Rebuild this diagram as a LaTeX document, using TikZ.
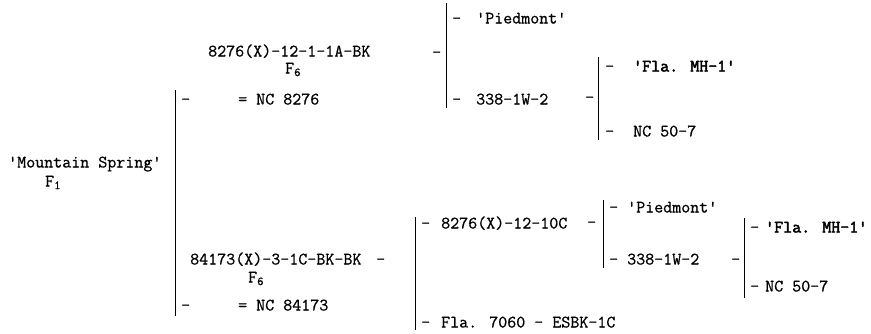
\documentclass[tikz,border=0pt]{standalone}
\usepackage{fontspec}
\newfontfamily\tw{Latin Modern Mono}[FakeBold=0.7]
\newfontfamily\twb{Latin Modern Mono}[FakeBold=2.6]
\newcommand\sq{\textquotesingle}
\begin{document}
\begin{tikzpicture}[x=1pt,y=-1pt,
  txt/.style={anchor=west, inner sep=0pt, text height=9pt, text depth=0pt,
    font=\tw\fontsize{17.5}{18}\selectfont},
  bld/.style={txt, font=\twb\fontsize{17.5}{18}\selectfont},
  bar/.style={line width=1pt}]
\useasboundingbox (0,0) rectangle (871,333);
% root
\node[txt] (ms) at (8,163) {\sq Mountain Spring\sq};
\node[txt] (f1) at (45,182) {F\textsubscript{1}};
\coordinate (m1) at (175,90);
\coordinate (m2) at (175,316);
\draw[bar] (m1) -- (m2);
% upper parent
\node[txt] (da) at (181,100) {-};
\node[txt] (nca) at (238,100) {= NC 8276};
\node[txt] (pa) at (208,52) {8276(X)-12-1-1A-BK};
\node[txt] (f6a) at (285,69) {F\textsubscript{6}};
\node[txt] (dpa) at (432,53) {-};
\coordinate (a1) at (446,3);
\coordinate (a2) at (446,108);
\draw[bar] (a1) -- (a2);
\node[txt] (dp1) at (452,19) {-};
\node[txt] (pied1) at (476,19) {\sq Piedmont\sq};
\node[txt] (dp2) at (452,100) {-};
\node[txt] (s338a) at (476,100) {338-1W-2};
\node[txt] (ds338a) at (585,98) {-};
\coordinate (b1) at (598,57);
\coordinate (b2) at (598,140);
\draw[bar] (b1) -- (b2);
\node[txt] (df1) at (605,67) {-};
\node[bld] (fla1) at (633,67) {\sq Fla. MH-1\sq};
\node[txt] (df2) at (605,132) {-};
\node[txt] (nc507a) at (633,132) {NC 50-7};
% lower parent
\node[txt] (pb) at (190,260) {84173(X)-3-1C-BK-BK};
\node[txt] (dpb) at (376,260) {-};
\node[txt] (f6b) at (248,278) {F\textsubscript{6}};
\node[txt] (db) at (181,306) {-};
\node[txt] (ncb) at (238,306) {= NC 84173};
\coordinate (c1) at (415,217);
\coordinate (c2) at (415,330);
\draw[bar] (c1) -- (c2);
\node[txt] (dq1) at (421,224) {-};
\node[txt] (pc) at (441,224) {8276(X)-12-10C};
\node[txt] (dpc) at (587,223) {-};
\node[txt] (dq2) at (421,323) {-};
\node[txt] (fla7060) at (441,323) {Fla. 7060 - ESBK-1C};
\coordinate (e1) at (603,200);
\coordinate (e2) at (603,268);
\draw[bar] (e1) -- (e2);
\node[txt] (dr1) at (609,208) {-};
\node[txt] (pied2) at (627,208) {\sq Piedmont\sq};
\node[txt] (dr2) at (609,260) {-};
\node[txt] (s338b) at (627,260) {338-1W-2};
\node[txt] (ds338b) at (731,260) {-};
\coordinate (g1) at (744,218);
\coordinate (g2) at (744,298);
\draw[bar] (g1) -- (g2);
\node[txt] (ds1) at (750,228) {-};
\node[bld] (fla2) at (765,228) {\sq Fla. MH-1\sq};
\node[txt] (ds2) at (750,287) {-};
\node[txt] (nc507b) at (765,287) {NC 50-7};
\end{tikzpicture}
\end{document}
